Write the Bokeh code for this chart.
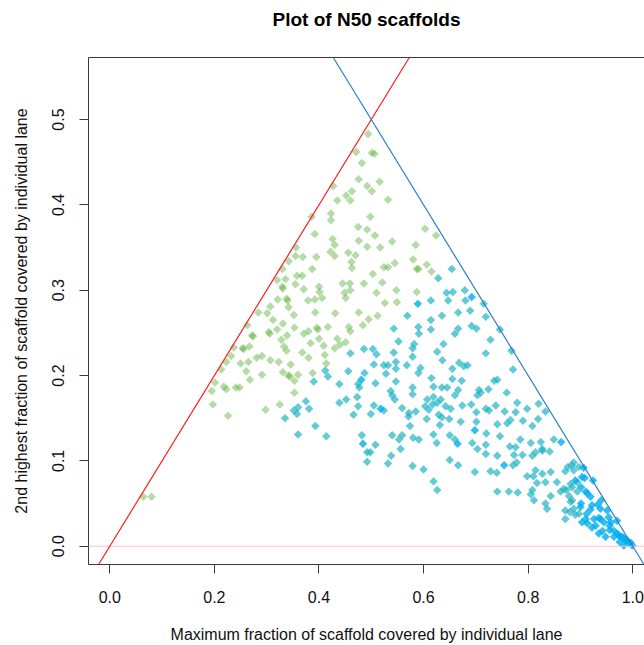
import numpy as np
from bokeh.plotting import figure
from bokeh.models import Slope, Span, LinearAxis, FixedTicker, Range1d
from bokeh.embed import file_html
from bokeh.resources import INLINE

# ---- data ----
green_x = [0.494,0.471,0.482,0.476,0.492,0.427,0.463,0.452,0.460,0.435,0.423,0.423,0.386,0.475,0.492,0.392,0.426,0.476,0.430,0.356,
           0.492,0.422,0.430,0.456,0.470,0.395,0.355,0.369,0.342,0.462,0.463,0.387,0.330,0.358,0.368,0.320,0.336,0.445,0.459,0.486,
           0.330,0.331,0.355,0.371,0.400,0.401,0.449,0.460,0.451,0.379,0.392,0.406,0.321,0.340,0.307,0.342,0.284,0.301,0.352,0.393,
           0.431,0.476,0.338,
           0.501,0.506,0.501,0.516,0.532,0.498,0.507,0.540,0.517,0.585,0.603,0.624,0.580,0.606,0.587,0.590,0.524,0.532,0.545,0.615,
           0.503,0.521,0.548,0.510,0.587,0.526,0.549,0.512,0.495,
           0.312,0.331,0.353,0.263,0.320,0.398,0.396,0.417,0.457,0.460,0.484,0.371,0.380,0.272,0.274,0.306,0.304,0.328,0.339,0.384,
           0.400,0.409,0.435,0.430,0.451,0.440,0.237,0.254,0.256,0.267,0.333,0.338,0.368,0.232,0.281,0.291,0.223,0.250,0.265,0.307,
           0.323,0.380,0.411,0.414,0.346,0.213,0.261,0.331,0.342,0.344,0.360,0.388,0.291,0.201,0.268,0.353,0.218,0.223,0.241,0.248,
           0.195,0.353,0.197,0.298,0.325,0.226,0.064,0.080]
green_y = [0.483,0.462,0.449,0.430,0.422,0.422,0.416,0.411,0.405,0.405,0.390,0.382,0.386,0.374,0.371,0.366,0.360,0.358,0.353,0.350,
           0.351,0.345,0.340,0.344,0.341,0.339,0.340,0.339,0.334,0.333,0.326,0.325,0.325,0.317,0.317,0.312,0.313,0.308,0.308,0.308,
           0.304,0.302,0.307,0.301,0.304,0.298,0.297,0.300,0.291,0.288,0.289,0.291,0.289,0.288,0.281,0.280,0.274,0.273,0.271,0.274,
           0.273,0.274,0.290,
           0.461,0.460,0.416,0.427,0.406,0.386,0.364,0.357,0.350,0.353,0.372,0.364,0.336,0.330,0.325,0.325,0.327,0.327,0.332,0.322,
           0.319,0.309,0.300,0.297,0.298,0.285,0.286,0.270,0.266,
           0.265,0.261,0.256,0.259,0.254,0.254,0.256,0.257,0.257,0.252,0.259,0.249,0.252,0.247,0.246,0.249,0.251,0.242,0.247,0.238,
           0.243,0.235,0.243,0.232,0.239,0.236,0.233,0.232,0.231,0.234,0.234,0.229,0.227,0.223,0.221,0.223,0.216,0.214,0.216,0.218,
           0.216,0.221,0.224,0.214,0.213,0.207,0.205,0.204,0.200,0.199,0.201,0.203,0.201,0.192,0.195,0.194,0.187,0.184,0.186,0.186,
           0.182,0.180,0.166,0.160,0.166,0.153,0.058,0.058]

teal_x = [0.654,0.628,0.644,0.656,0.679,0.647,0.680,0.614,0.715,0.569,0.635,0.666,0.689,0.719,
          0.460,0.486,0.412,0.417,0.456,0.487,0.390,0.439,0.475,0.477,0.473,0.375,0.360,0.352,0.358,0.381,0.335,0.439,0.452,0.475,
          0.466,0.393,0.360,0.414,0.482,0.492,0.492,
          0.614,0.543,0.590,0.591,0.614,0.666,0.660,0.692,0.701,0.746,0.728,0.719,0.768,0.771,0.552,0.582,0.579,0.638,0.626,0.543,
          0.510,0.503,0.636,0.579,0.547,0.668,0.677,0.684,0.524,0.532,0.505,0.547,0.568,0.594,0.655,0.590,0.528,0.615,0.655,0.673,
          0.735,0.741,0.547,0.508,0.579,0.619,0.635,0.645,0.666,0.706,0.724,0.759,0.537,0.540,0.579,0.545,0.607,0.633,0.660,0.619,
          0.703,0.709,0.779,0.820,0.505,0.559,0.603,0.617,0.626,0.642,0.652,0.674,0.691,0.738,0.499,0.524,0.572,0.585,0.610,0.629,
          0.635,0.701,0.719,0.725,0.755,0.776,0.798,0.833,0.571,0.606,0.649,0.671,0.701,0.741,0.760,0.766,0.790,0.574,0.631,0.808,
          0.819,0.540,0.559,0.553,0.580,0.591,0.619,0.650,0.660,0.625,0.693,0.720,0.746,0.719,0.765,0.776,0.785,0.805,0.824,0.827,
          0.849,0.498,0.538,0.556,0.508,0.703,0.719,0.741,0.773,0.789,0.808,0.814,0.827,0.841,0.532,0.579,0.600,0.650,0.666,0.698,
          0.728,0.740,0.771,0.778,0.798,0.810,0.814,0.827,0.843,0.833,0.817,0.855,0.876,0.883,0.887,0.619,0.626,0.741,0.763,0.780,
          0.808,0.805,0.811,0.833,0.836,0.843,0.862,0.873,0.884,0.878,0.894,0.881,0.887,0.871,0.880,0.897,
          0.887,0.897,0.871,0.894,0.881,0.868,0.884,0.871,0.890]
teal_y = [0.325,0.314,0.297,0.298,0.300,0.288,0.288,0.288,0.284,0.270,0.270,0.274,0.276,0.269,
          0.226,0.231,0.206,0.199,0.205,0.203,0.193,0.190,0.190,0.186,0.175,0.170,0.163,0.159,0.155,0.161,0.150,0.168,0.172,0.164,
          0.154,0.141,0.131,0.129,0.130,0.110,0.099,
          0.265,0.255,0.257,0.249,0.254,0.255,0.249,0.258,0.255,0.254,0.242,0.226,0.229,0.207,0.240,0.237,0.232,0.237,0.228,0.227,
          0.225,0.231,0.218,0.222,0.216,0.215,0.211,0.212,0.212,0.212,0.213,0.208,0.212,0.209,0.208,0.203,0.202,0.197,0.196,0.194,
          0.194,0.195,0.193,0.191,0.186,0.187,0.186,0.186,0.183,0.183,0.184,0.180,0.182,0.177,0.178,0.172,0.172,0.172,0.177,0.175,
          0.177,0.180,0.168,0.167,0.165,0.162,0.164,0.166,0.168,0.164,0.161,0.165,0.166,0.165,0.155,0.159,0.156,0.158,0.160,0.154,
          0.151,0.157,0.161,0.159,0.158,0.157,0.161,0.158,0.152,0.149,0.149,0.146,0.146,0.143,0.144,0.148,0.147,0.141,0.142,0.141,
          0.149,0.130,0.130,0.125,0.127,0.125,0.131,0.130,0.125,0.121,0.121,0.132,0.129,0.119,0.117,0.116,0.125,0.121,0.122,0.114,
          0.125,0.110,0.106,0.114,0.119,0.114,0.108,0.106,0.107,0.107,0.106,0.110,0.112,0.111,0.097,0.094,0.090,0.101,0.095,0.087,
          0.088,0.086,0.095,0.098,0.082,0.082,0.089,0.085,0.087,0.075,0.074,0.075,0.093,0.095,0.089,0.076,0.066,0.064,0.064,0.063,
          0.066,0.061,0.054,0.050,0.044,0.059,0.064,0.066,0.069,0.059,0.064,0.052,0.044,0.032,0.040,0.038,
          0.098,0.093,0.088,0.075,0.073,0.067,0.054,0.042,0.037]

blue_x = [0.692,0.589,0.481,0.484,0.518,0.698,0.665,0.863,0.754,0.890,
          0.924,0.933,0.940,0.951,0.954,0.938,0.926,0.903,0.913,0.922,0.942,0.935,0.956,0.964,0.970,0.976,0.983,0.989,0.996,0.999,
          0.975,0.983,0.964,0.948,0.970,0.903,0.913,0.919,0.912,0.919,0.900,
          0.906,0.908,0.901,0.910,0.901,0.922,0.938,0.910,0.935,0.945,0.958,0.929,0.973,0.980,0.986,0.992,0.956]
blue_y = [0.292,0.284,0.195,0.120,0.161,0.136,0.120,0.122,0.095,0.077,
          0.077,0.049,0.054,0.042,0.034,0.032,0.032,0.028,0.027,0.022,0.018,0.015,0.024,0.018,0.015,0.011,0.009,0.007,0.004,0.001,
          0.005,0.001,0.011,0.011,0.030,0.081,0.062,0.058,0.038,0.043,0.046,
          0.092,0.080,0.069,0.064,0.050,0.048,0.044,0.032,0.033,0.028,0.028,0.024,0.013,0.011,0.007,0.004,0.019]

x_ticks = [0.0, 0.2, 0.4, 0.6, 0.8, 1.0]
x_tick_labels = ["0.0", "0.2", "0.4", "0.6", "0.8", "1.0"]
y_ticks = [0.0, 0.1, 0.2, 0.3, 0.4, 0.5]
y_tick_labels = ["0.0", "0.1", "0.2", "0.3", "0.4", "0.5"]
title_text = "Plot of N50 scaffolds"

FONT = "Liberation Sans"
AXIS_COL = "#3a3a3a"

p = figure(width=644, height=645,
           x_range=Range1d(-0.0407, 1.0224), y_range=Range1d(-0.0214, 0.5727),
           output_backend="svg", toolbar_location=None,
           min_border_left=88, min_border_right=0, min_border_top=57, min_border_bottom=81)

p.title.text = ""

p.xgrid.visible = False
p.ygrid.visible = False
p.outline_line_color = None
p.background_fill_color = "white"
p.border_fill_color = "white"

# reference lines
p.add_layout(Span(location=0, dimension="width", line_color="#ffc0cb", line_width=1.2))
p.add_layout(Slope(gradient=1, y_intercept=0, line_color="#ff1a1a", line_width=1.2))
p.add_layout(Slope(gradient=-1, y_intercept=1, line_color="#2b7fc8", line_width=1.2))

# points
ang = np.pi / 4
p.scatter(green_x, green_y, marker="square", angle=ang, size=6,
          fill_color="#5ab03c", fill_alpha=0.45, line_color=None)
p.scatter(teal_x, teal_y, marker="square", angle=ang, size=6,
          fill_color="#1ab3c2", fill_alpha=0.68, line_color=None)
p.scatter(blue_x, blue_y, marker="square", angle=ang, size=6,
          fill_color="#00aeef", fill_alpha=0.8, line_color=None)

# axes
for ax in (p.xaxis[0], p.yaxis[0]):
    ax.axis_line_color = AXIS_COL
    ax.major_tick_line_color = AXIS_COL
    ax.minor_tick_line_color = None
    ax.major_tick_in = 0
    ax.major_tick_out = 9
    ax.major_label_text_font = FONT
    ax.major_label_text_font_size = "16px"
    ax.major_label_text_color = "#111111"
    ax.axis_label_text_font = FONT
    ax.axis_label_text_font_size = "16px"
    ax.axis_label_text_font_style = "normal"
    ax.axis_label_text_color = "#111111"

p.xaxis[0].ticker = FixedTicker(ticks=x_ticks)
p.xaxis[0].major_label_overrides = {t: l for t, l in zip(x_ticks, x_tick_labels)}
p.xaxis[0].major_label_standoff = 17
p.xaxis[0].axis_label = "Maximum fraction of scaffold covered by individual lane"
p.xaxis[0].axis_label_standoff = 20

p.yaxis[0].ticker = FixedTicker(ticks=y_ticks)
p.yaxis[0].major_label_overrides = {t: l for t, l in zip(y_ticks, y_tick_labels)}
p.yaxis[0].major_label_orientation = "parallel"
p.yaxis[0].major_label_standoff = 15
p.yaxis[0].axis_label = "2nd highest fraction of scaffold covered by individual lane"
p.yaxis[0].axis_label_standoff = 20

# top frame line, carrying the plot title as its label
top = LinearAxis(ticker=FixedTicker(ticks=[]), axis_line_color=AXIS_COL,
                 major_tick_line_color=None, minor_tick_line_color=None,
                 major_tick_out=0, major_tick_in=0,
                 major_label_text_font_size="0px", major_label_standoff=0,
                 axis_label=title_text, axis_label_standoff=28,
                 axis_label_text_font=FONT, axis_label_text_font_size="19px",
                 axis_label_text_font_style="bold", axis_label_text_color="black")
p.add_layout(top, "above")

open("out.html", "w").write(file_html(p, INLINE))
